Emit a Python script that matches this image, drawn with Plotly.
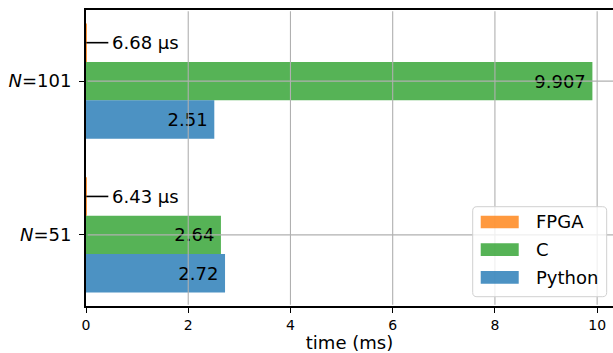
import plotly.graph_objects as go

# ---- data -------------------------------------------------------------
categories = ["<i>N</i>=51", "<i>N</i>=101"]
series_names = ["FPGA", "C", "Python"]
fpga_ms = [0.00643, 0.00668]
c_ms = [2.64, 9.907]
python_ms = [2.72, 2.51]
x_ticks = [0, 2, 4, 6, 8, 10]

series_values = [fpga_ms, c_ms, python_ms]
series_colors = ["#ff7f0e", "#2ca02c", "#1f77b4"]
bar_alpha = 0.8
bar_height = 0.25
x_range = [0, 10.31]
y_range = [-0.4625, 1.4625]
FONT = "DejaVu Sans"
GRID = "#b0b0b0"


def rgba(hex_color, a):
    h = hex_color.lstrip("#")
    r, g, b = (int(h[i:i + 2], 16) for i in (0, 2, 4))
    return f"rgba({r},{g},{b},{a})"


fig = go.Figure()

cat_pos = list(range(len(categories)))
for k, (name, vals, col) in enumerate(zip(series_names, series_values, series_colors)):
    # first series sits on top, last at the bottom of each group
    offset = (1 - k) * bar_height
    ypos = [p + offset for p in cat_pos]
    if name == "FPGA":
        text = None
    else:
        text = [f"{v:.4g}\u2009" for v in vals]
    fig.add_trace(go.Bar(
        x=vals, y=ypos, orientation="h", width=bar_height, name=name,
        marker=dict(color=col, opacity=bar_alpha, line=dict(width=0)),
        text=text, textposition="inside" if text else "none",
        insidetextanchor="end",
        textfont=dict(family=FONT, size=18, color="black"),
        showlegend=False, hoverinfo="skip",
    ))
    if name == "FPGA":
        lead = 0.43
        for v, y in zip(vals, ypos):
            fig.add_trace(go.Scatter(
                x=[v, v + lead], y=[y, y], mode="lines",
                line=dict(color="black", width=1.6),
                showlegend=False, hoverinfo="skip",
            ))
            fig.add_annotation(
                x=v + lead, y=y, xref="x", yref="y", text=f"{v * 1000:.2f} µs",
                showarrow=False, xanchor="left", yanchor="middle", xshift=2,
                font=dict(family=FONT, size=18, color="black"),
            )

shapes = []
# grid drawn over the bars
for t in x_ticks:
    if t > x_range[0]:
        shapes.append(dict(type="line", xref="x", yref="paper", x0=t, x1=t,
                           y0=0.004, y1=0.996, layer="above",
                           line=dict(color=GRID, width=1.1)))
for p in cat_pos:
    shapes.append(dict(type="line", xref="paper", yref="y", x0=0.003, x1=1,
                       y0=p, y1=p, layer="above",
                       line=dict(color=GRID, width=1.1)))

# legend box
lx0, lx1, ly0, ly1 = 0.7338, 0.9880, 0.0314, 0.3355
rx, ry = 0.008, 0.014
path = (f"M {lx0 + rx},{ly0} L {lx1 - rx},{ly0} Q {lx1},{ly0} {lx1},{ly0 + ry} "
        f"L {lx1},{ly1 - ry} Q {lx1},{ly1} {lx1 - rx},{ly1} "
        f"L {lx0 + rx},{ly1} Q {lx0},{ly1} {lx0},{ly1 - ry} "
        f"L {lx0},{ly0 + ry} Q {lx0},{ly0} {lx0 + rx},{ly0} Z")
shapes.append(dict(type="path", xref="paper", yref="paper", path=path, layer="above",
                   fillcolor="rgba(255,255,255,0.8)", line=dict(color="#d0d0d0", width=1)))
row_top = 0.2838
row_step = 0.0934
sw_h = 0.043
for k, (name, col) in enumerate(zip(series_names, series_colors)):
    yc = row_top - k * row_step
    shapes.append(dict(type="rect", xref="paper", yref="paper",
                       x0=0.7490, x1=0.8211, y0=yc - sw_h / 2, y1=yc + sw_h / 2,
                       layer="above", fillcolor=rgba(col, bar_alpha), line=dict(width=0)))
    fig.add_annotation(x=0.8501, y=yc, xref="paper", yref="paper", text=name,
                       showarrow=False, xanchor="left", yanchor="middle",
                       font=dict(family=FONT, size=18, color="black"))

fig.update_layout(
    width=613, height=353,
    margin=dict(l=86, r=0, t=10, b=47, pad=0),
    paper_bgcolor="white", plot_bgcolor="white",
    font=dict(family=FONT, color="black"),
    shapes=shapes,
    xaxis=dict(
        range=x_range, tickvals=x_ticks, showgrid=False, zeroline=False,
        showline=True, linecolor="black", linewidth=2, mirror=True,
        ticks="outside", ticklen=5, tickwidth=1.4, tickcolor="black",
        tickfont=dict(family=FONT, size=14), automargin=False,
        title=dict(text="time (ms)", font=dict(family=FONT, size=18), standoff=6),
    ),
    yaxis=dict(
        range=y_range, tickvals=cat_pos, ticktext=categories, showgrid=False,
        zeroline=False, showline=True, linecolor="black", linewidth=2,
        ticks="outside", ticklen=5, tickwidth=1.4, tickcolor="black",
        tickfont=dict(family=FONT, size=18), automargin=False,
        ticklabelstandoff=4,
    ),
    showlegend=False,
)

fig.write_html("out.html")
